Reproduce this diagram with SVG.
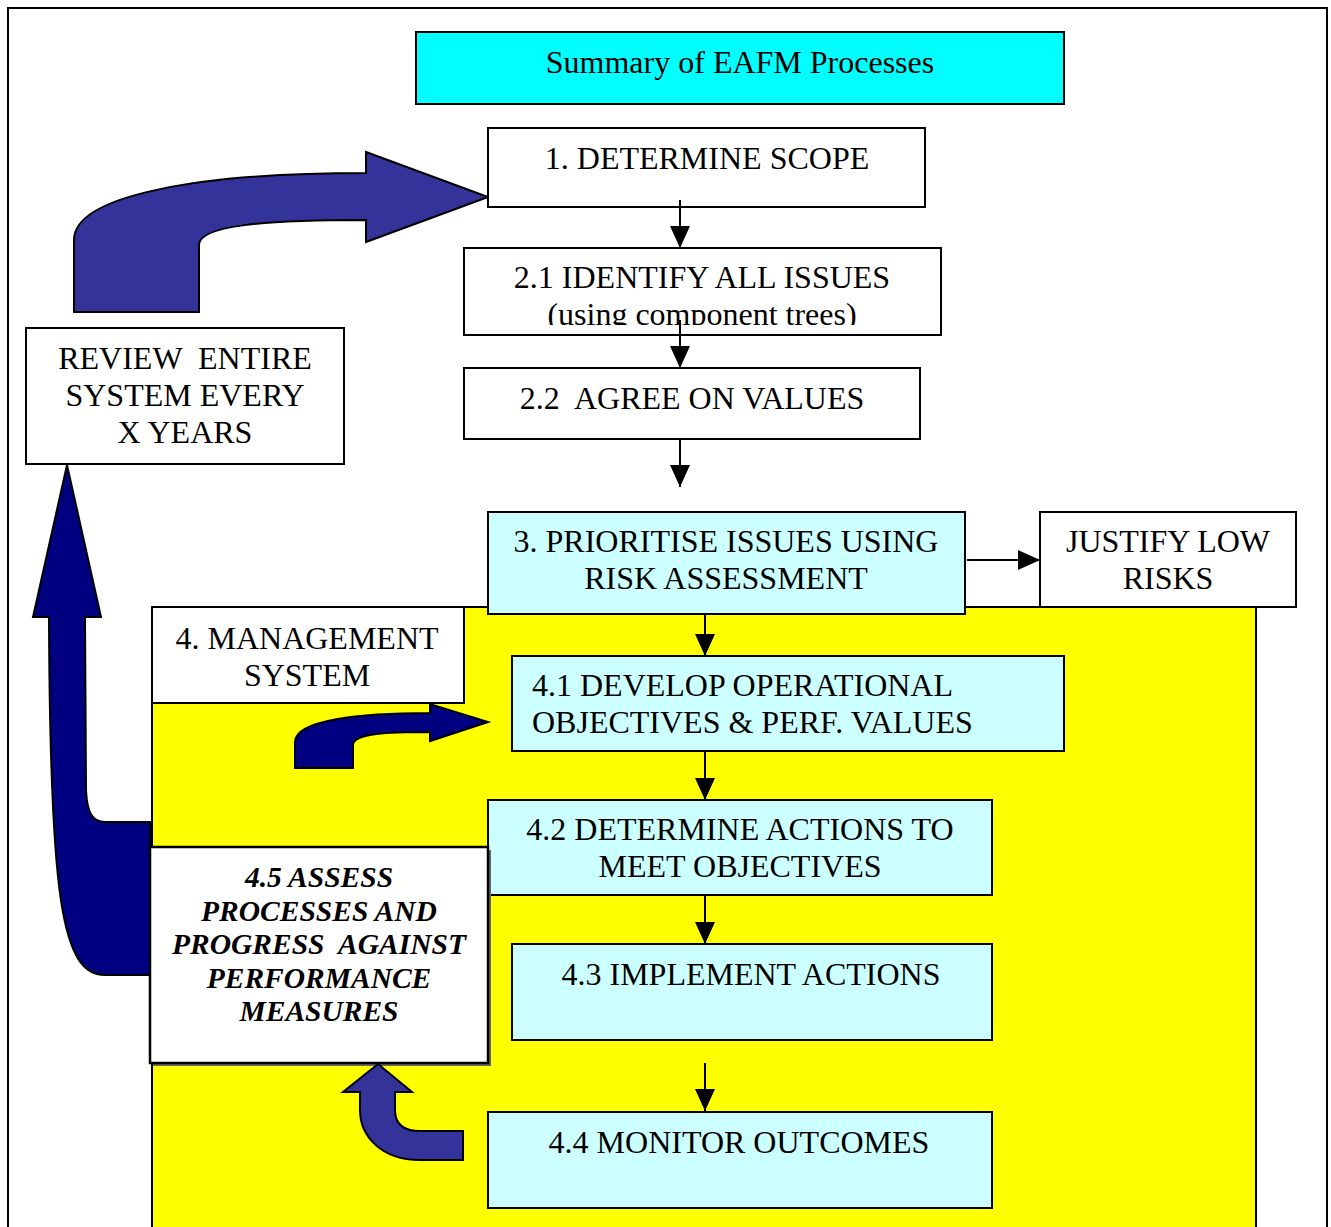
<svg xmlns="http://www.w3.org/2000/svg" width="1331" height="1227" viewBox="0 0 1331 1227">
<style>
.box{stroke:#000;stroke-width:2}
.w{fill:#fff}
.lc{fill:#ccffff}
.t{font-family:"Liberation Serif","Times New Roman",serif;font-size:32px;fill:#000}
.c{text-anchor:middle}
.bi{font-family:"Liberation Serif","Times New Roman",serif;font-size:29.5px;font-weight:bold;font-style:italic;fill:#000;text-anchor:middle}
.conn{stroke:#000;stroke-width:2;fill:none;marker-end:url(#ah)}
.blk{stroke:#000;stroke-width:2;stroke-linejoin:miter}
</style>
<defs>
<marker id="ah" markerUnits="userSpaceOnUse" markerWidth="22" markerHeight="20" refX="22" refY="10" orient="auto"><path d="M0,0 L22,10 L0,20 Z" fill="#000"/></marker>
<clipPath id="clip21"><rect x="464" y="248" width="477" height="77"/></clipPath>
</defs>
<rect x="8" y="8" width="1319" height="1240" fill="#fff" stroke="#000" stroke-width="2"/>
<g id="title"><rect class="box" x="416" y="32" width="648" height="72" fill="#00ffff"/><text class="t c" x="740" y="73">Summary of EAFM Processes</text></g>
<g id="mgmt-area"><rect x="152" y="607" width="1104" height="660" fill="#ffff00" stroke="#000" stroke-width="2"/></g>
<g id="review-arrow"><path class="blk" fill="#000080" d="M67,465 L101,617 L85,617 L86,790 C87,812 92,822 105,822 L150,822 L150,975 L105,975 C62,975 50,900 49,617 L33,617 Z"/></g>
<g id="restart-arrow"><path class="blk" fill="#333399" d="M488,197 L366,242 L366,220 C260,220 199,226 199,245 L199,312 L74,312 L74,240 C74,195 200,173 366,173 L366,152 Z"/></g>
<g id="n1"><rect class="box w" x="488" y="128" width="437" height="79"/><text class="t c" x="707" y="169">1. DETERMINE SCOPE</text></g>
<g id="n21"><rect class="box w" x="464" y="248" width="477" height="87"/><g clip-path="url(#clip21)"><text class="t c" x="702" y="288">2.1 IDENTIFY ALL ISSUES</text><text class="t c" x="702" y="325">(using component trees)</text></g></g>
<g id="n22"><rect class="box w" x="464" y="368" width="456" height="71"/><text class="t c" x="692" y="409" xml:space="preserve">2.2  AGREE ON VALUES</text></g>
<g id="review"><rect class="box w" x="26" y="328" width="318" height="136"/><text class="t c" x="185" y="369" xml:space="preserve">REVIEW  ENTIRE</text><text class="t c" x="185" y="406">SYSTEM EVERY</text><text class="t c" x="185" y="443">X YEARS</text></g>
<g id="n3"><rect class="box lc" x="488" y="512" width="477" height="102"/><text class="t c" x="726" y="552">3. PRIORITISE ISSUES USING</text><text class="t c" x="726" y="589">RISK ASSESSMENT</text></g>
<g id="justify"><rect class="box w" x="1040" y="512" width="256" height="95"/><text class="t c" x="1168" y="552">JUSTIFY LOW</text><text class="t c" x="1168" y="589">RISKS</text></g>
<g id="n4"><rect class="box w" x="152" y="607" width="312" height="96"/><text class="t c" x="307" y="649">4. MANAGEMENT</text><text class="t c" x="307" y="686">SYSTEM</text></g>
<g id="n41"><rect class="box lc" x="512" y="656" width="552" height="95"/><text class="t" x="532" y="696">4.1 DEVELOP OPERATIONAL</text><text class="t" x="532" y="733">OBJECTIVES &amp; PERF. VALUES</text></g>
<g id="mgmt-arrow"><path class="blk" fill="#000080" d="M488,722 L430,741 L430,732 C390,732 353,733 353,745 L353,768 L295,768 L295,742 C295,720 360,713 430,713 L430,704 Z"/></g>
<g id="n42"><rect class="box lc" x="488" y="800" width="504" height="95"/><text class="t c" x="740" y="840">4.2 DETERMINE ACTIONS TO</text><text class="t c" x="740" y="877">MEET OBJECTIVES</text></g>
<g id="n43"><rect class="box lc" x="512" y="944" width="480" height="96"/><text class="t c" x="751" y="985">4.3 IMPLEMENT ACTIONS</text></g>
<g id="n44"><rect class="box lc" x="488" y="1112" width="504" height="96"/><text class="t c" x="739" y="1153">4.4 MONITOR OUTCOMES</text></g>
<g id="n45"><rect x="153" y="850" width="338" height="216" fill="#666"/><rect x="150" y="847" width="338" height="216" fill="#fff" stroke="#000" stroke-width="2.5"/><text class="bi" x="319" y="887">4.5 ASSESS</text><text class="bi" x="319" y="921">PROCESSES AND</text><text class="bi" x="319" y="954" xml:space="preserve">PROGRESS  AGAINST</text><text class="bi" x="319" y="988">PERFORMANCE</text><text class="bi" x="319" y="1021">MEASURES</text></g>
<g id="assess-arrow"><path class="blk" fill="#333399" d="M378,1064 L412,1092 L395,1092 L395,1110 C395,1125 405,1131 420,1131 L463,1131 L463,1160 L420,1160 C380,1160 360,1135 360,1110 L360,1092 L343,1092 Z"/></g>
<g id="connectors">
<path class="conn" d="M680,200 V248"/>
<path class="conn" d="M680,320 V368"/>
<path class="conn" d="M680,440 V487"/>
<path class="conn" d="M967,560 H1040"/>
<path class="conn" d="M705,614 V656"/>
<path class="conn" d="M705,751 V800"/>
<path class="conn" d="M705,895 V944"/>
<path class="conn" d="M705,1063 V1111"/>
</g>
</svg>
